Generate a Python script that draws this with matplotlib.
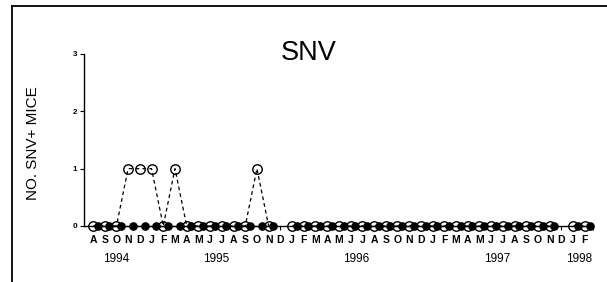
"""SNV positive mice per month, two series."""
import numpy as np
import matplotlib
matplotlib.use('Agg')
import matplotlib.pyplot as plt
from matplotlib.lines import Line2D
from matplotlib.transforms import offset_copy

plt.rcParams['font.family'] = ['Liberation Sans', 'DejaVu Sans']

# Aug 1994 .. Feb 1998
month_labels = ['A', 'S', 'O', 'N', 'D',
                'J', 'F', 'M', 'A', 'M', 'J', 'J', 'A', 'S', 'O', 'N', 'D',
                'J', 'F', 'M', 'A', 'M', 'J', 'J', 'A', 'S', 'O', 'N', 'D',
                'J', 'F', 'M', 'A', 'M', 'J', 'J', 'A', 'S', 'O', 'N', 'D',
                'J', 'F']
year_labels = ['1994', '1995', '1996', '1997', '1998']
year_centers = [2, 10.5, 22.5, 34.5, 41.5]

nan = np.nan
open_counts = [0, 0, 0, 1, 1,
               1, 0, 1, 0, 0, 0, 0, 0, 0, 1, 0, nan,
               0, 0, 0, 0, 0, 0, 0, 0, 0, 0, 0, 0,
               0, 0, 0, 0, 0, 0, 0, 0, 0, 0, 0, nan,
               0, 0]
filled_counts = [0, 0, 0, 0, 0,
                 0, 0, 0, 0, 0, 0, 0, 0, 0, 0, 0, nan,
                 0, 0, 0, 0, 0, 0, 0, 0, 0, 0, 0, 0,
                 0, 0, 0, 0, 0, 0, 0, 0, 0, 0, 0, nan,
                 0, 0]
gap_months = [16, 40]

W, H = 607, 282
fig = plt.figure(figsize=(W / 100, H / 100), dpi=100)

# axes box in pixels
left, right, top, bottom = 84, 593, 54, 226
ax = fig.add_axes([left / W, (H - bottom) / H, (right - left) / W, (bottom - top) / H])

x = np.arange(len(month_labels))
px_per_month = 11.71
x0 = -(93 - left) / px_per_month
ax.set_xlim(x0, x0 + (right - left) / px_per_month)
ax.set_ylim(0, 3)

ax.plot(x + 0.4, filled_counts, '-', color='black', lw=0.9, marker='o', ms=5.2,
        mfc='black', mec='black', clip_on=False, zorder=3)
ax.plot(x, open_counts, '--', color='black', lw=0.9, dashes=(3, 2.5), marker='o', ms=6.8,
        mfc='none', mec='black', mew=1.0, clip_on=False, zorder=4)

for s in ['top', 'right']:
    ax.spines[s].set_visible(False)
ax.spines['left'].set_linewidth(1.0)
ax.spines['bottom'].set_linewidth(1.0)

ax.set_yticks([0, 1, 2, 3])
ax.set_yticklabels(['0', '1', '2', '3'], fontsize=5.8, fontweight='bold')
ax.tick_params(axis='y', direction='out', length=3, width=0.8, pad=2)
ax.set_xticks(gap_months + [ax.get_xlim()[1]])
ax.set_xticklabels([])
ax.tick_params(axis='x', direction='out', length=3, width=0.8)

tr = ax.get_xaxis_transform()
month_tr = offset_copy(tr, fig=fig, y=-14, units='dots')
year_tr = offset_copy(tr, fig=fig, y=-33, units='dots')
for i, lab in enumerate(month_labels):
    ax.text(x[i], 0, lab, transform=month_tr, ha='center', va='center',
            fontsize=7.5, fontweight='bold')
for xc, lab in zip(year_centers, year_labels):
    ax.text(xc, 0, lab, transform=year_tr, ha='center', va='center', fontsize=8.5)

fig.text(309 / W, 1 - 53 / H, 'SNV', ha='center', va='center', fontsize=19.5)
fig.text(33 / W, 1 - 143 / H, 'NO. SNV+ MICE', ha='center', va='center',
         rotation=90, fontsize=11)

# frame lines of the panel
fig.add_artist(Line2D([12 / W, 1], [1 - 6 / H, 1 - 6 / H], color='black', lw=1.3))
fig.add_artist(Line2D([12 / W, 12 / W], [0, 1 - 6 / H], color='black', lw=1.3))

fig.savefig('out.png', dpi=100)
